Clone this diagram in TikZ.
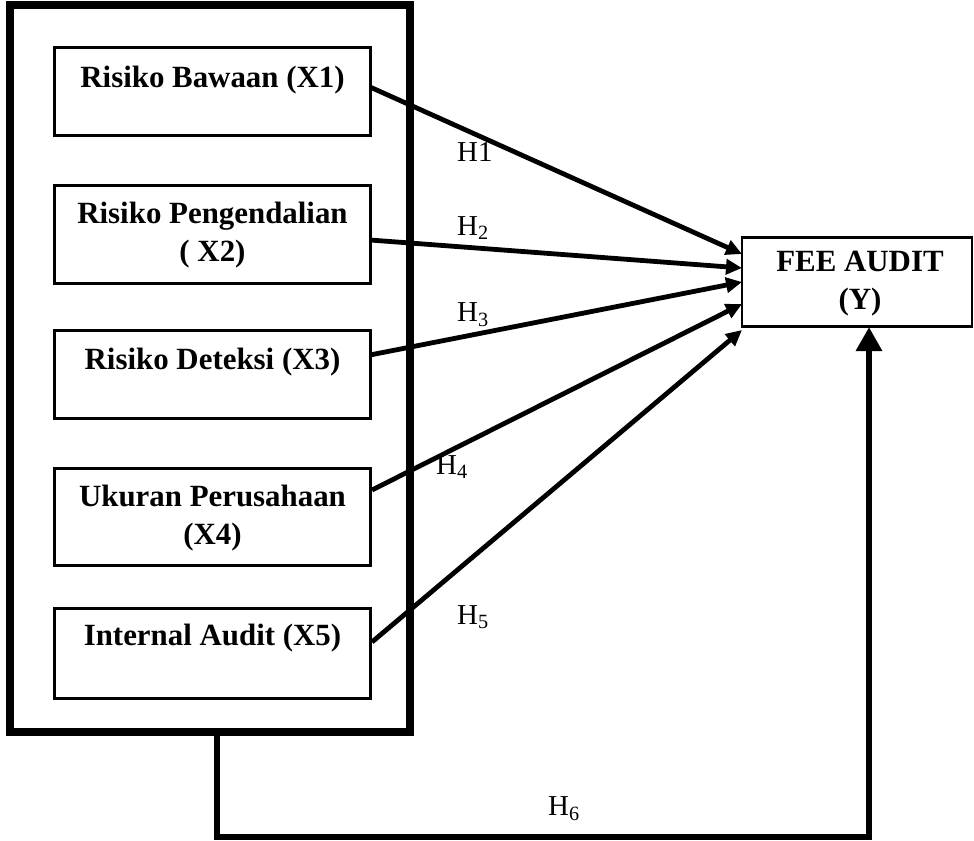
\documentclass[tikz,border=0pt]{standalone}
\usepackage{fontspec}
\setmainfont{Liberation Serif}
\usetikzlibrary{arrows.meta}
\begin{document}
\begin{tikzpicture}[x=1bp,y=-1bp,
  varbox/.style={draw,line width=3bp,minimum width=315bp,align=center,inner sep=0pt},
  vtext/.style={font=\fontsize{31}{38}\selectfont\bfseries,align=center,inner sep=0pt},
  ybox/.style={draw,line width=2.2bp,minimum width=230bp,minimum height=89bp,inner sep=0pt},
  hlab/.style={font=\fontsize{29}{32}\selectfont,inner sep=0pt},
  harrow/.style={line width=4.8bp,-{Triangle[length=16bp,width=15bp]}},
  ]
\useasboundingbox (0,0) rectangle (974,841);
% outer box
\node[draw,line width=7.5bp,minimum width=400bp,minimum height=727bp,inner sep=0pt] (outer) at (210,368.5) {};
% variable boxes
\node[varbox,minimum height=88bp] (x1) at (212.5,91) {};
\node[vtext] (t1) at (212.5,80) {Risiko Bawaan (X1)};
\node[varbox,minimum height=98bp] (x2) at (212.5,234) {};
\node[vtext] (t2) at (212.5,235) {Risiko Pengendalian\\( X2)};
\node[varbox,minimum height=88bp] (x3) at (212.5,374) {};
\node[vtext] (t3) at (212.5,362) {Risiko Deteksi (X3)};
\node[varbox,minimum height=97bp] (x4) at (212.5,516.5) {};
\node[vtext] (t4) at (212.5,518) {Ukuran Perusahaan\\(X4)};
\node[varbox,minimum height=90bp] (x5) at (212.5,653) {};
\node[vtext] (t5) at (212.5,638) {Internal Audit (X5)};
% Y box
\node[ybox] (y) at (857,282) {};
\node[vtext] (ty) at (860,284) {FEE AUDIT\\(Y)};
% coordinates
\coordinate (s1) at (370,87);
\coordinate (s2) at (370,240);
\coordinate (s3) at (370,355);
\coordinate (s4) at (372,490);
\coordinate (s5) at (372,642);
\coordinate (e1) at (742,254);
\coordinate (e2) at (742,268);
\coordinate (e3) at (742,282);
\coordinate (e4) at (742,304);
\coordinate (e5) at (742,330);
\draw[harrow] (s1) -- (e1);
\draw[harrow] (s2) -- (e2);
\draw[harrow] (s3) -- (e3);
\draw[harrow] (s4) -- (e4);
\draw[harrow] (s5) -- (e5);
% H6 connector
\coordinate (b1) at (217,732);
\coordinate (b2) at (217,837);
\coordinate (b3) at (869,837);
\coordinate (b4) at (869,327);
\draw[line width=6.5bp,-{Triangle[length=24bp,width=25bp]}] (b1) -- (b2) -- (b3) -- (b4);
% labels
\node[hlab,anchor=west] (h1) at (457,152) {H1};
\node[hlab,anchor=west] (h2) at (457,228) {H\textsubscript{2}};
\node[hlab,anchor=west] (h3) at (457,315) {H\textsubscript{3}};
\node[hlab,anchor=west] (h4) at (436,467) {H\textsubscript{4}};
\node[hlab,anchor=west] (h5) at (457,617) {H\textsubscript{5}};
\node[hlab,anchor=west] (h6) at (548,809) {H\textsubscript{6}};
\end{tikzpicture}
\end{document}
